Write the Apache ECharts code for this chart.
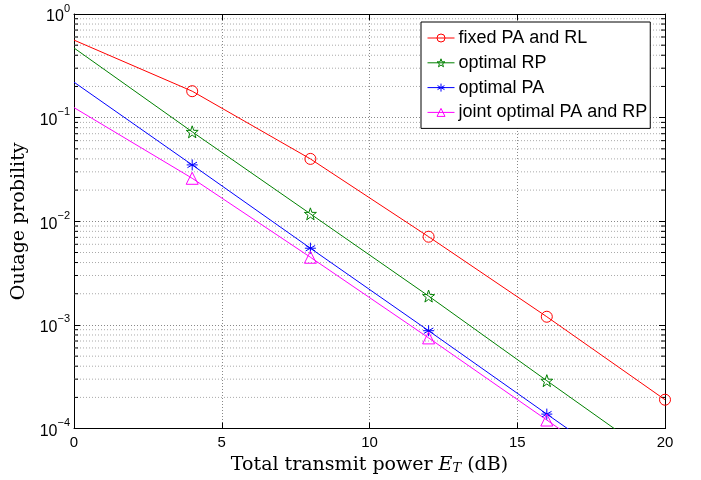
<!DOCTYPE html>
<html>
<head>
<meta charset="utf-8">
<script src="https://cdn.jsdelivr.net/npm/echarts@6/dist/echarts.min.js"></script>
<style>
html,body{margin:0;padding:0;background:#fff;}
#chart{width:701px;height:480px;}
</style>
</head>
<body>
<div id="chart"></div>
<script>
// Total transmit power E_T (dB)
const power = [0, 4, 8, 12, 16, 20];
// Outage probability per scheme
const fixedPaRl = [0.56, 0.18, 0.040, 0.0071, 0.00120, 0.000190];
const optimalRp = [0.47, 0.073, 0.0118, 0.0019, 0.00029, 0.000045];
const optimalPa = [0.22, 0.035, 0.0055, 0.00088, 0.000138, 0.000022];
const jointOpt = [0.125, 0.026, 0.0045, 0.00075, 0.000121, 0.000019];
const seriesNames = ['fixed PA and RL', 'optimal RP', 'optimal PA', 'joint optimal PA and RP'];
const xTicks = [0, 5, 10, 15, 20];

// minor decade positions 2..9 x 10^k
const minorVals = [];
for (let d = -4; d <= -1; d++) {
  for (let k = 2; k <= 9; k++) minorVals.push(k * Math.pow(10, d));
}

const starPath = 'path://M0,-10L2.35,-3.24L9.51,-3.09L3.8,1.24L5.88,8.09L0,4L-5.88,8.09L-3.8,1.24L-9.51,-3.09L-2.35,-3.24Z';
const asteriskPath = 'path://M0,-10L0,10M-8.66,-5L8.66,5M-8.66,5L8.66,-5M-10,0L10,0';

function toData(vals) {
  return power.map((x, i) => {
    const item = { value: [x, vals[i]] };
    if (x === 0) item.symbol = 'none';
    return item;
  });
}

function makeSeries(name, vals, color, symbol, size) {
  return {
    name: name,
    type: 'line',
    data: toData(vals),
    symbol: symbol,
    symbolSize: size,
    showSymbol: true,
    lineStyle: { color: color, width: 1 },
    itemStyle: { color: 'rgba(0,0,0,0)', borderColor: color, borderWidth: 1 },
    emphasis: { disabled: true },
    clip: true,
    z: 5
  };
}

const axisFont = 'Liberation Sans';
const serifFont = 'DejaVu Serif';

function yLabel(v) {
  const e = Math.round(Math.log10(v));
  return '{b|10}{s|' + (e === 0 ? '0' : '\u2212' + (-e)) + '}';
}

const chart = echarts.init(document.getElementById('chart'), null, { renderer: 'canvas' });
chart.setOption({
  animation: false,
  backgroundColor: '#fff',
  grid: { left: 74, right: 36, top: 14, bottom: 50 },
  legend: {
    data: seriesNames,
    orient: 'vertical',
    left: 421,
    top: 22,
    padding: [6, 3, 6, 6],
    itemGap: 4.8,
    itemWidth: 27,
    itemHeight: 10,
    backgroundColor: '#fff',
    borderColor: '#000',
    borderWidth: 1,
    borderRadius: 0,
    itemStyle: { color: 'rgba(0,0,0,0)', borderWidth: 1 },
    lineStyle: { width: 1 },
    textStyle: { fontFamily: axisFont, fontSize: 18, lineHeight: 20, color: '#000', padding: [0, 0, 0, -1] }
  },
  xAxis: [{
    type: 'value',
    min: 0, max: 20, interval: 5,
    position: 'bottom',
    name: '{n|Total transmit power }{i|E}{sub|T}{n| (dB)}',
    nameLocation: 'middle',
    nameGap: 23,
    nameTextStyle: {
      rich: {
        n: { fontFamily: serifFont, fontSize: 19, color: '#000' },
        i: { fontFamily: serifFont, fontSize: 19, fontStyle: 'italic', color: '#000' },
        sub: { fontFamily: serifFont, fontSize: 13, fontStyle: 'italic', color: '#000', verticalAlign: 'bottom', padding: [7, 0, 0, 0] }
      }
    },
    axisLine: { show: true, onZero: false, lineStyle: { color: '#000', width: 1 } },
    axisTick: { show: true, inside: true, length: 6, lineStyle: { color: '#000' } },
    axisLabel: { color: '#000', fontFamily: axisFont, fontSize: 15, margin: 7 },
    splitLine: { show: true, lineStyle: { color: '#888', type: [1, 2], width: 1 } }
  }, {
    type: 'value',
    min: 0, max: 20, interval: 5,
    position: 'top',
    axisLine: { show: true, onZero: false, lineStyle: { color: '#000', width: 1 } },
    axisTick: { show: true, inside: true, length: 6, lineStyle: { color: '#000' } },
    axisLabel: { show: false },
    splitLine: { show: false }
  }],
  yAxis: [{
    type: 'log',
    logBase: 10,
    min: 1e-4, max: 1,
    position: 'left',
    name: 'Outage probility',
    nameLocation: 'middle',
    nameGap: 33,
    nameTextStyle: { fontFamily: serifFont, fontSize: 19, color: '#000' },
    axisLine: { show: true, onZero: false, lineStyle: { color: '#000', width: 1 } },
    axisTick: { show: true, inside: true, length: 6, lineStyle: { color: '#000' } },
    axisLabel: {
      color: '#000', margin: 4, align: 'right',
      formatter: yLabel,
      rich: {
        b: { fontFamily: axisFont, fontSize: 16, color: '#000', lineHeight: 22, verticalAlign: 'bottom' },
        s: { fontFamily: axisFont, fontSize: 11, color: '#000', lineHeight: 22, verticalAlign: 'top' }
      }
    },
    splitLine: { show: true, lineStyle: { color: '#888', type: [1, 2], width: 1 } }
  }, {
    type: 'log',
    logBase: 10,
    min: 1e-4, max: 1,
    position: 'right',
    axisLine: { show: true, onZero: false, lineStyle: { color: '#000', width: 1 } },
    axisTick: { show: true, inside: true, length: 6, lineStyle: { color: '#000' } },
    axisLabel: { show: false },
    splitLine: { show: false }
  }],
  series: [
    {
      // minor decade grid lines and inward ticks on both sides
      type: 'custom',
      silent: true,
      z: 1,
      data: minorVals.map(v => [0, v]),
      encode: { x: 0, y: 1 },
      renderItem: function (params, api) {
        const v = api.value(1);
        const p0 = api.coord([0, v]);
        const p1 = api.coord([20, v]);
        return {
          type: 'group',
          children: [
            { type: 'line', shape: { x1: p0[0], y1: p0[1], x2: p1[0], y2: p1[1] },
              style: { stroke: '#aaa', lineWidth: 1, lineDash: [1, 2] } },
            { type: 'line', shape: { x1: p0[0], y1: p0[1], x2: p0[0] + 4, y2: p0[1] },
              style: { stroke: '#000', lineWidth: 1 } },
            { type: 'line', shape: { x1: p1[0] - 4, y1: p1[1], x2: p1[0], y2: p1[1] },
              style: { stroke: '#000', lineWidth: 1 } }
          ]
        };
      }
    },
    makeSeries(seriesNames[0], fixedPaRl, '#ff0000', 'circle', 11),
    makeSeries(seriesNames[1], optimalRp, '#008000', starPath, 12),
    makeSeries(seriesNames[2], optimalPa, '#0000ff', asteriskPath, 11),
    makeSeries(seriesNames[3], jointOpt, '#ff00ff', 'triangle', 12)
  ]
});
</script>
</body>
</html>
